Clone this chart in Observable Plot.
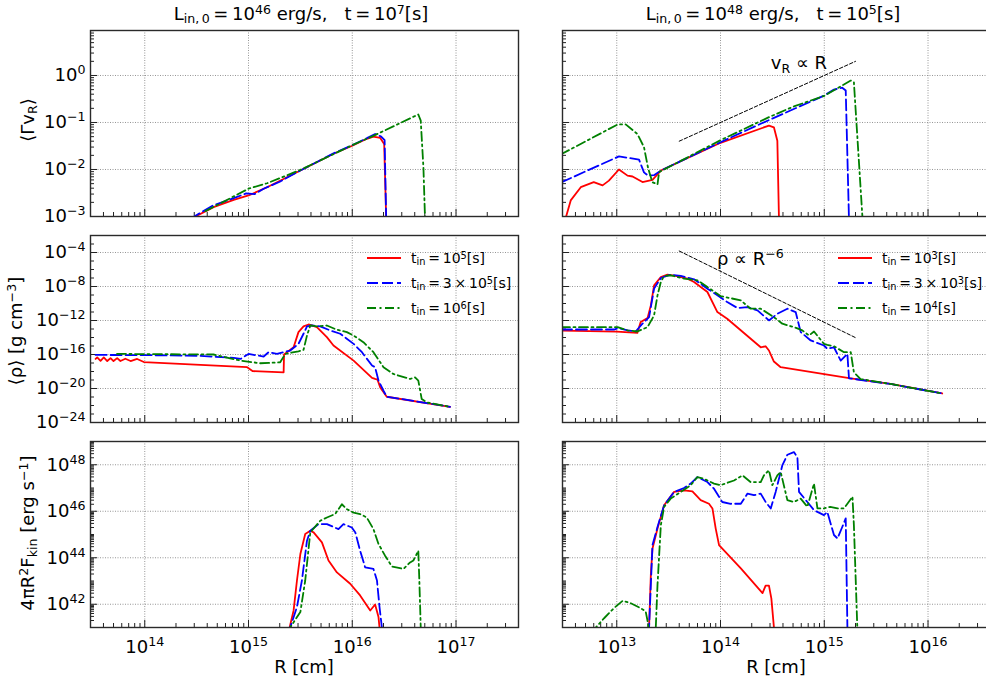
<!DOCTYPE html>
<html><head><meta charset="utf-8">
<script src="https://cdn.jsdelivr.net/npm/d3@7"></script>
<script src="https://cdn.jsdelivr.net/npm/@observablehq/plot@0.6"></script>
<style>
html,body{margin:0;padding:0}
body{width:986px;height:683px;overflow:hidden;background:#fff;position:relative;font-family:"DejaVu Sans",sans-serif;color:#000}
.lbl{position:absolute;white-space:nowrap;line-height:18px;font-size:18px}
.lbl sub,.lbl sup{font-size:70%;line-height:0}
.lbl sup{vertical-align:0.45em}
.lbl sub{vertical-align:-0.25em}
.rot{transform:translate(-50%,-50%) rotate(-90deg)}
.ctr{transform:translateX(-50%)}
.leg{position:absolute;font-size:14px;line-height:14px;white-space:nowrap}
.leg svg{position:absolute;left:0;top:0}
.leg sub,.leg sup{font-size:70%;line-height:0}
.leg sup{vertical-align:0.45em}
.leg sub{vertical-align:-0.25em}
</style></head><body>
<script>
// ---------------- data ----------------
// axes
const X_DOMAIN_LEFT = [3e13, 4e17];
const X_DOMAIN_RIGHT = [3e12, 4e16];
const Y_DOMAIN_TOP = [1e-3, 9.06];
const Y_DOMAIN_MID = [1e-24, 1e-2];
const Y_DOMAIN_BOT = [1e41, 1e49];
const X_TICKS_LEFT = [1e14, 1e15, 1e16, 1e17];
const X_TICKS_RIGHT = [1e13, 1e14, 1e15, 1e16];
const Y_TICKS_TOP = [1e-3, 1e-2, 1e-1, 1e0];
const Y_TICKS_MID = [1e-24, 1e-20, 1e-16, 1e-12, 1e-8, 1e-4];
const Y_TICKS_BOT = [1e42, 1e44, 1e46, 1e48];

// top-left: <Γ v_R>, L=1e46, t=1e7 s   [R (cm), value]
const TL_red = [[2.9e14,8e-4],[3.08e14,1.0e-3],[4.6e14,1.58e-3],[7.2e14,2.26e-3],[1.0e15,2.8e-3],[1.51e15,4.2e-3],[3.16e15,9.5e-3],[6.6e15,0.0216],[1.0e16,0.032],[1.38e16,0.045],[1.6e16,0.050],[1.86e16,0.047],[2.03e16,0.035],[2.12e16,1e-3],[2.13e16,5e-4]];
const TL_blue = [[2.9e14,8e-4],[3.0e14,1e-3],[4.5e14,1.7e-3],[7.0e14,2.4e-3],[9.5e14,3.1e-3],[1.15e15,3.0e-3],[1.4e15,3.9e-3],[2.0e15,5.5e-3],[3.16e15,9.5e-3],[6.6e15,0.022],[1.0e16,0.033],[1.4e16,0.047],[1.66e16,0.057],[1.9e16,0.050],[2.05e16,0.042],[2.12e16,1e-3],[2.13e16,5e-4]];
const TL_green = [[3.84e14,1.3e-3],[1.0e15,3.9e-3],[1.51e15,5.1e-3],[3.16e15,9.8e-3],[1.0e16,0.033],[1.6e16,0.052],[4.33e16,0.148],[4.57e16,0.11],[4.85e16,0.011],[5.0e16,1.3e-3],[5.05e16,5e-4]];

// top-right: L=1e48, t=1e5 s
const TR_red = [[3.23e12,9.5e-4],[3.6e12,2.2e-3],[4.5e12,4.2e-3],[6.0e12,5.4e-3],[7.3e12,4.6e-3],[8.4e12,5.8e-3],[1.05e13,0.0100],[1.27e13,7.4e-3],[1.42e13,7.1e-3],[1.77e13,5.4e-3],[2.21e13,6.0e-3],[2.66e13,9.5e-3],[1.0e14,0.037],[2.93e14,0.086],[3.27e14,0.079],[3.53e14,0.041],[3.66e14,9e-4]];
const TR_blue = [[2.9e12,5.3e-3],[1.05e13,0.019],[1.27e13,0.0178],[1.64e13,0.0162],[1.83e13,8.7e-3],[2.0e13,7.4e-3],[2.3e13,7.6e-3],[2.66e13,9.5e-3],[1.0e14,0.038],[2.44e14,0.094],[1.0e15,0.375],[1.24e15,0.50],[1.49e15,0.55],[1.61e15,0.48],[1.73e15,9e-4]];
const TR_green = [[2.9e12,0.021],[1.02e13,0.091],[1.22e13,0.091],[1.58e13,0.057],[1.83e13,0.030],[2.0e13,0.011],[2.2e13,5.4e-3],[2.47e13,4.8e-3],[2.56e13,8.8e-3],[1.0e14,0.042],[2.93e14,0.13],[5.1e14,0.22],[1.0e15,0.37],[1.8e15,0.78],[1.93e15,0.72],[2.33e15,1.0e-3],[2.36e15,8e-4]];

// middle-left: <rho>
const ML_red = [[3.36e13,3.0e-17],[3.48e13,4.5e-17],[3.75e13,1.8e-17],[4.03e13,4.5e-17],[4.35e13,1.7e-17],[4.68e13,3.8e-17],[5.0e13,1.7e-17],[5.42e13,3.8e-17],[5.83e13,1.7e-17],[6.5e13,3.2e-17],[7.3e13,1.7e-17],[8.45e13,3.0e-17],[9.8e13,1.3e-17],[3.44e14,5.9e-18],[9.7e14,3.2e-18],[1.1e15,1.1e-18],[2.18e15,8e-19],[2.2e15,1.0e-16],[2.72e15,7.2e-16],[3.03e15,4.3e-14],[3.39e15,2.0e-13],[3.79e15,3.4e-13],[4.56e15,1.66e-13],[5.69e15,1.1e-14],[6.59e15,1.15e-15],[1.03e16,1.9e-17],[1.55e16,1.74e-19],[1.66e16,1.32e-19],[1.75e16,1.1e-19],[1.86e16,1.35e-20],[2.15e16,1.07e-21],[8.75e16,7.1e-23]];
const ML_blue = [[3.36e13,8.9e-17],[1.0e14,8.5e-17],[3.44e14,6.9e-17],[7.2e14,4.0e-17],[8.4e14,3.0e-17],[1.0e15,1.17e-16],[1.12e15,9.1e-17],[1.4e15,5.75e-17],[1.56e15,1.86e-16],[1.88e15,1.17e-16],[2.52e15,2.9e-16],[3.03e15,1.78e-15],[3.39e15,2.75e-14],[3.66e15,2.0e-13],[4.08e15,2.6e-13],[4.91e15,2.0e-13],[6.12e15,6.8e-14],[7.65e15,2.75e-14],[1.03e16,1.78e-15],[1.24e16,1.86e-16],[1.55e16,5e-18],[1.66e16,3.2e-18],[1.79e16,8.3e-20],[2.0e16,5.5e-21],[2.15e16,1.07e-21],[8.75e16,7.1e-23]];
const ML_green = [[5.4e13,1.17e-16],[4.6e14,1.0e-16],[8.4e14,1.9e-17],[1.3e15,9.3e-18],[2.02e15,1.2e-17],[2.26e15,1.17e-16],[3.03e15,2.4e-16],[3.39e15,3.5e-16],[3.66e15,1.7e-14],[3.94e15,2.6e-13],[4.56e15,2.0e-13],[5.69e15,2.6e-13],[7.11e15,8.1e-14],[8.87e15,4.3e-14],[1.03e16,1.7e-14],[1.28e16,2.8e-15],[1.6e16,1.86e-16],[2.0e16,3.2e-18],[2.49e16,5.1e-19],[3.61e16,1.32e-19],[4.03e16,2.0e-19],[4.33e16,8.3e-20],[4.67e16,5.75e-22],[5.22e16,2.3e-22],[8.75e16,7.1e-23]];

// middle-right
const MR_red = [[2.9e12,6.5e-14],[1.0e13,5.0e-14],[1.58e13,3.5e-14],[1.7e13,6.5e-13],[1.98e13,1.9e-12],[2.13e13,6.0e-11],[2.29e13,1.38e-8],[2.66e13,1.32e-7],[3.08e13,2.5e-7],[3.7e13,1.74e-7],[4.8e13,8.5e-8],[5.56e13,3.4e-8],[7.48e13,2.24e-9],[9.33e13,9.8e-12],[1.16e14,1.62e-12],[2.44e14,7.1e-16],[2.72e14,9.3e-16],[2.93e14,2.95e-16],[3.27e14,1.48e-17],[3.8e14,3.2e-18],[1.8e15,1.58e-19],[4.36e15,3.4e-20],[1.37e16,2.6e-21]];
const MR_blue = [[2.9e12,8.7e-14],[9.4e12,8.7e-14],[1.05e13,1.26e-13],[1.27e13,6.8e-14],[1.52e13,5.1e-14],[1.77e13,4.2e-13],[2.05e13,2.5e-12],[2.29e13,5.6e-9],[2.66e13,1e-7],[3.31e13,2.5e-7],[4.14e13,1.74e-7],[5.56e13,7.1e-8],[7.48e13,5.6e-9],[9.33e13,9.1e-10],[1.16e14,1.48e-10],[1.46e14,2.9e-11],[1.82e14,3.8e-11],[2.27e14,1.55e-11],[2.93e14,1.02e-12],[3.53e14,6.3e-12],[4.41e14,2.45e-11],[5.3e14,9.8e-12],[5.93e14,4.3e-14],[7.4e14,4.5e-15],[9.93e14,1.15e-15],[1.07e15,4.7e-16],[1.24e15,7.1e-16],[1.44e15,1.9e-17],[1.67e15,1.2e-16],[1.73e15,1.58e-19],[4.36e15,3.4e-20],[1.37e16,2.6e-21]];
const MR_green = [[2.9e12,1.66e-13],[1.02e13,1.66e-13],[1.27e13,6.8e-14],[1.58e13,5.1e-14],[1.98e13,1.66e-13],[2.29e13,4e-12],[2.47e13,9.1e-10],[2.66e13,3.4e-8],[2.86e13,1.74e-7],[3.31e13,2.1e-7],[4.45e13,8.5e-8],[5.98e13,5.4e-8],[7.48e13,8.7e-9],[1.0e14,7.6e-10],[1.57e14,2.3e-10],[1.95e14,2.45e-11],[2.44e14,2.45e-11],[3.27e14,2.5e-12],[3.94e14,4.2e-13],[5.1e14,1.66e-13],[6.15e14,6.8e-14],[7.13e14,1.74e-14],[7.96e14,5.1e-14],[9.93e14,1.78e-15],[1.07e15,1.38e-15],[1.24e15,9.3e-16],[1.55e15,1.86e-16],[1.8e15,1.86e-16],[1.93e15,7.9e-19],[2.24e15,1.3e-19],[4.36e15,3.4e-20],[1.37e16,2.6e-21]];

// bottom-left: 4 pi R^2 F_kin
const BL_red = [[2.45e15,5e40],[2.49e15,1e41],[2.72e15,5.4e41],[2.93e15,1.05e43],[3.16e15,1.45e44],[3.52e15,1.05e45],[3.94e15,1.45e45],[4.24e15,1.23e45],[5.1e15,4.6e44],[5.9e15,7.6e43],[7.11e15,2.34e43],[9.55e15,7.6e42],[1.19e16,2.4e42],[1.49e16,5.4e41],[1.66e16,9.8e41],[1.79e16,2.8e41],[1.83e16,1e41],[1.85e16,5e40]];
const BL_blue = [[2.48e15,5e40],[2.52e15,1e41],[2.93e15,7.6e41],[3.27e15,1.05e43],[3.66e15,5.4e44],[3.94e15,1.45e45],[4.73e15,2.8e45],[5.7e15,2.8e45],[7.36e15,1.7e45],[8.22e15,2.8e45],[9.9e15,2.0e45],[1.07e16,1.23e45],[1.19e16,2.0e44],[1.33e16,3.9e43],[1.6e16,3.3e43],[1.73e16,1.05e43],[1.83e16,7.6e41],[1.93e16,1e41],[1.96e16,5e40]];
const BL_green = [[2.48e15,5e40],[2.52e15,1e41],[3.16e15,4.6e41],[3.52e15,1.05e43],[3.94e15,1.23e45],[4.91e15,3.9e45],[5.7e15,5.4e45],[6.84e15,7.6e45],[7.94e15,2.0e46],[8.87e15,1.23e46],[1.03e16,8.7e45],[1.19e16,7.6e45],[1.38e16,5.4e45],[1.6e16,1.7e45],[1.79e16,3.9e44],[2.07e16,1.23e44],[2.41e16,4.2e43],[3.11e16,3.3e43],[3.61e16,6.3e43],[3.88e16,7.6e43],[4.33e16,2.0e44],[4.43e16,1.05e43],[4.57e16,1e41],[4.6e16,5e40]];

// bottom-right
const BR_red = [[2.03e13,5e40],[2.05e13,1.07e41],[2.13e13,1.8e43],[2.21e13,2.5e44],[2.47e13,1.8e45],[2.86e13,1.8e46],[3.57e13,6.8e46],[4.45e13,7.9e46],[5.36e13,7.2e46],[6.44e13,3.0e46],[7.74e13,2.1e46],[8.36e13,1.32e46],[8.99e13,1.8e45],[9.68e13,3.5e44],[1.57e14,3.5e43],[2.54e14,3.0e42],[2.72e14,6.3e42],[2.93e14,6.3e42],[3.09e14,1.8e42],[3.27e14,1.05e41],[3.3e14,5e40]];
const BR_blue = [[2.03e13,5e40],[2.05e13,1.07e41],[2.21e13,3.5e44],[2.47e13,2.1e45],[2.86e13,1.8e46],[3.57e13,6.8e46],[4.45e13,1e47],[5.16e13,1.55e47],[5.98e13,2.95e47],[7.48e13,1.8e47],[8.66e13,9.3e46],[1.04e14,2.5e46],[1.25e14,2.1e46],[1.57e14,2.1e46],[1.82e14,5.75e46],[2.1e14,4.9e46],[2.44e14,5.75e46],[2.72e14,2.5e46],[3.05e14,1.32e46],[3.4e14,6.8e46],[3.94e14,9.3e47],[4.41e14,2.7e48],[5.1e14,3.5e48],[5.51e14,2.1e48],[5.71e14,6.8e46],[6.87e14,2.5e46],[7.96e14,1.12e46],[9.93e14,6.8e45],[1.07e15,9.3e45],[1.24e15,9.5e44],[1.34e15,6.8e44],[1.49e15,2.1e45],[1.61e15,4.9e45],[1.67e15,1.1e41],[1.68e15,5e40]];
const BR_green = [[5.9e12,5e40],[6.28e12,1e41],[7.55e12,2.5e41],[9.4e12,6.8e41],[1.14e13,1.41e42],[1.36e13,1.12e42],[1.7e13,6.8e41],[1.9e13,4.9e41],[2.0e13,1.55e41],[2.05e13,5e40],[2.35e13,5e40],[2.38e13,1.1e41],[2.47e13,6.8e42],[2.66e13,2.5e45],[2.86e13,1.55e46],[3.31e13,3.5e46],[4.14e13,6.8e46],[5.16e13,1.32e47],[5.98e13,2.95e47],[6.93e13,2.5e47],[8.66e13,1.55e47],[1.0e14,1.32e47],[1.35e14,2.1e47],[1.63e14,3.5e47],[1.95e14,1.8e47],[2.44e14,1.8e47],[2.62e14,3.5e47],[2.93e14,5.75e47],[3.16e14,1.32e47],[3.53e14,3.5e47],[3.8e14,4.9e47],[4.41e14,3.0e46],[5.1e14,2.5e46],[5.93e14,3.5e46],[6.87e14,1.55e46],[7.96e14,1.55e47],[8.59e14,1.32e46],[9.93e14,1.32e46],[1.14e15,1.55e46],[1.34e15,1.32e46],[1.55e15,1.32e46],[1.87e15,4.2e46],[1.93e15,2.5e45],[2.08e15,1.1e41],[2.1e15,5e40]];

// guide lines and their notes
const V_GUIDE = [[4e13, 0.04], [2e15, 2.0]];
const RHO_GUIDE = [[4e13, 1.5e-4], [2e15, 9.6e-15]];
const V_NOTE = [{R: 5.7e14, y: 1.81, text: "v_{R} ∝ R"}];
const RHO_NOTE = [{R: 1.94e14, y: 1.5e-5, text: "ρ ∝ R^{−6}"}];

// legends
const LEGEND_LEFT = ["t_{in}\u2009=\u200910^{5}[s]", "t_{in}\u2009=\u20093\u2009×\u200910^{5}[s]", "t_{in}\u2009=\u200910^{6}[s]"];
const LEGEND_RIGHT = ["t_{in}\u2009=\u200910^{3}[s]", "t_{in}\u2009=\u20093\u2009×\u200910^{3}[s]", "t_{in}\u2009=\u200910^{4}[s]"];
const TITLES = ["L_{in,\u20090}\u2009=\u200910^{46} erg/s,\u00a0\u00a0 t\u2009=\u200910^{7}[s]", "L_{in,\u20090}\u2009=\u200910^{48} erg/s,\u00a0\u00a0 t\u2009=\u200910^{5}[s]"];
const Y_LABELS = ["⟨Γv_{R}⟩", "⟨ρ⟩ [g cm^{−3}]", "4πR^{2}F_{kin} [erg s^{−1}]"];
const X_LABEL = "R [cm]";

// ---------------- layout ----------------
const COLS = [{x0: 90, x1: 518}, {x0: 562, x1: 990}];
const ROWS = [{y0: 30, y1: 216}, {y0: 235, y1: 422}, {y0: 441, y1: 627}];
const STYLES = [
  {stroke: "#ff0000", dash: null},
  {stroke: "#0000ff", dash: "11,4"},
  {stroke: "#008000", dash: "9,3.5,2,3.5"}
];

const fmtPow = d => { const e = Math.round(Math.log10(d)); return "10^{" + (e < 0 ? "−" + (-e) : e) + "}"; };
function logTicks([lo, hi], mults) {
  const out = [];
  for (let e = Math.floor(Math.log10(lo)) - 1; e <= Math.ceil(Math.log10(hi)); e++)
    for (const m of mults) { const v = +(m + "e" + e); if (v >= lo * 1.0001 && v <= hi * 0.9999) out.push(v); }
  return out;
}
function decadesIn(domain) { return logTicks(domain, [1]); }

function toHTML(s) {
  return s.replace(/\^\{([^}]*)\}/g, "<sup>$1</sup>").replace(/_\{([^}]*)\}/g, "<sub>$1</sub>");
}
function richify(root) {
  const NS = "http://www.w3.org/2000/svg";
  root.querySelectorAll("text").forEach(t => {
    const s = t.textContent;
    if (!/[_^]\{/.test(s)) return;
    const fs = parseFloat(getComputedStyle(t).fontSize) || 16;
    const parts = []; const re = /([_^])\{([^}]*)\}/g; let last = 0, m;
    while ((m = re.exec(s))) { if (m.index > last) parts.push(["", s.slice(last, m.index)]); parts.push([m[1], m[2]]); last = re.lastIndex; }
    if (last < s.length) parts.push(["", s.slice(last)]);
    while (t.firstChild) t.removeChild(t.firstChild);
    let cur = 0;
    for (const [k, txt] of parts) {
      const ts = document.createElementNS(NS, "tspan");
      const target = k === "^" ? -0.38 * fs : k === "_" ? 0.2 * fs : 0;
      if (target !== cur) ts.setAttribute("dy", (target - cur).toFixed(2));
      cur = target;
      if (k) ts.setAttribute("font-size", (0.7 * fs).toFixed(2));
      ts.textContent = txt;
      t.appendChild(ts);
    }
  });
}

const X_DOMAINS = [X_DOMAIN_LEFT, X_DOMAIN_RIGHT];
const X_TICKS = [X_TICKS_LEFT, X_TICKS_RIGHT];
const Y_DOMAINS = [Y_DOMAIN_TOP, Y_DOMAIN_MID, Y_DOMAIN_BOT];
const Y_TICKS = [Y_TICKS_TOP, Y_TICKS_MID, Y_TICKS_BOT];
const Y_MINOR = [
  logTicks(Y_DOMAIN_TOP, [2,3,4,5,6,7,8,9]),
  decadesIn(Y_DOMAIN_MID).filter(v => !Y_TICKS_MID.some(t => Math.abs(Math.log10(t/v)) < 1e-6)),
  logTicks(Y_DOMAIN_BOT, [1,2,3,4,5,6,7,8,9]).filter(v => !Y_TICKS_BOT.some(t => Math.abs(Math.log10(t/v)) < 1e-6))
];

const PANELS = [
  {col: 0, row: 0, series: [TL_red, TL_blue, TL_green]},
  {col: 1, row: 0, series: [TR_red, TR_blue, TR_green], guide: V_GUIDE, note: V_NOTE},
  {col: 0, row: 1, series: [ML_red, ML_blue, ML_green]},
  {col: 1, row: 1, series: [MR_red, MR_blue, MR_green], guide: RHO_GUIDE, note: RHO_NOTE},
  {col: 0, row: 2, series: [BL_red, BL_blue, BL_green]},
  {col: 1, row: 2, series: [BR_red, BR_blue, BR_green]}
];

for (const p of PANELS) {
  const C = COLS[p.col], R = ROWS[p.row];
  const ML = 92, MR = 2, MT = 14, MB = p.row === 2 ? 60 : 14;
  const fw = C.x1 - C.x0, fh = R.y1 - R.y0;
  const xd = X_DOMAINS[p.col], yd = Y_DOMAINS[p.row];
  const xMajor = decadesIn(xd), xMinor = logTicks(xd, [2,3,4,5,6,7,8,9]);
  const yGrid = p.row === 0 ? decadesIn(yd) : Y_TICKS[p.row];
  const marks = [
    Plot.ruleX(xMajor, {x: d => d, stroke: "#8a8a8a", strokeWidth: 0.9, strokeDasharray: "1,1.5"}),
    Plot.ruleY(yGrid, {y: d => d, stroke: "#8a8a8a", strokeWidth: 0.9, strokeDasharray: "1,1.5"}),
    Plot.tickX(xMinor, {x: d => d, insetTop: fh - 4, stroke: "#222", strokeWidth: 1}),
    Plot.tickX(xMajor, {x: d => d, insetTop: fh - 7, stroke: "#222", strokeWidth: 1}),
    Plot.tickY(Y_MINOR[p.row], {y: d => d, insetRight: fw - 4, stroke: "#222", strokeWidth: 1}),
    Plot.tickY(yGrid, {y: d => d, insetRight: fw - 7, stroke: "#222", strokeWidth: 1})
  ];
  p.series.forEach((s, i) => {
    marks.push(Plot.line(s, {x: d => d[0], y: d => d[1], stroke: STYLES[i].stroke, strokeWidth: 1.8,
      strokeDasharray: STYLES[i].dash, clip: true, curve: "linear"}));
  });
  if (p.guide) marks.push(Plot.line(p.guide, {x: d => d[0], y: d => d[1], stroke: "#000", strokeWidth: 1, strokeDasharray: "3.5,2", clip: true}));
  if (p.note) marks.push(Plot.text(p.note, {x: "R", y: "y", text: "text", fontSize: 18, textAnchor: "middle", fill: "#000"}));
  marks.push(Plot.frame({stroke: "#2a2a2a", strokeWidth: 1.4}));

  const chart = Plot.plot({
    width: ML + fw + MR, height: MT + fh + MB,
    marginLeft: ML, marginRight: MR, marginTop: MT, marginBottom: MB,
    style: {background: "transparent", overflow: "visible", fontFamily: "DejaVu Sans, sans-serif", fontSize: "18px", maxWidth: "none", color: "#000"},
    x: {type: "log", domain: xd, ticks: X_TICKS[p.col], tickFormat: fmtPow, tickSize: 0, tickPadding: 13, label: null, axis: p.row === 2 ? "bottom" : null},
    y: {type: "log", domain: yd, ticks: Y_TICKS[p.row], tickFormat: fmtPow, tickSize: 0, tickPadding: 5, label: null, axis: p.col === 0 ? "left" : null},
    marks
  });
  chart.style.position = "absolute";
  chart.style.left = (C.x0 - ML) + "px";
  chart.style.top = (R.y0 - MT) + "px";
  document.body.appendChild(chart);
  richify(chart);
}

// ---------------- text overlays ----------------
function addLabel(html, cls, x, y, extra) {
  const d = document.createElement("div");
  d.className = "lbl " + cls;
  d.innerHTML = html;
  d.style.left = x + "px"; d.style.top = y + "px";
  if (extra) Object.assign(d.style, extra);
  document.body.appendChild(d);
  return d;
}
// titles (centered above each column)
COLS.forEach((c, i) => addLabel(toHTML(TITLES[i]), "ctr", (c.x0 + c.x1) / 2 - 3, 5));
// x labels
COLS.forEach(c => addLabel(X_LABEL, "ctr", (c.x0 + c.x1) / 2, 658));
// y labels
const YLAB_POS = [[28, 120], [16, 331], [28, 533]];
Y_LABELS.forEach((t, i) => addLabel(toHTML(t), "rot", YLAB_POS[i][0], YLAB_POS[i][1]));

// legends
function addLegend(items, x, y) {
  items.forEach((t, i) => {
    const d = document.createElement("div");
    d.className = "leg";
    d.style.left = x + "px"; d.style.top = (y + i * 25 - 7) + "px";
    d.style.paddingLeft = "44px";
    const st = STYLES[i];
    d.innerHTML = `<svg width="34" height="14"><line x1="0" y1="7" x2="34" y2="7" stroke="${st.stroke}" stroke-width="1.8" ${st.dash ? `stroke-dasharray="${st.dash}"` : ""}/></svg>` + toHTML(t);
    document.body.appendChild(d);
  });
}
addLegend(LEGEND_LEFT, 367, 258);
addLegend(LEGEND_RIGHT, 838, 258);
</script>
</body></html>
